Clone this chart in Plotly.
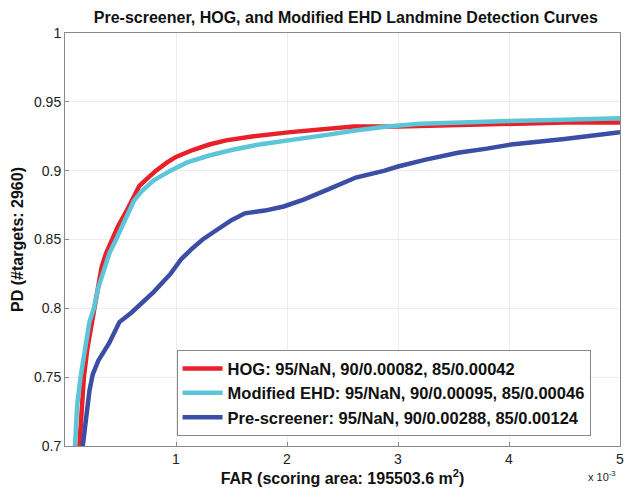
import plotly.graph_objects as go

# FAR values are in units of 1e-3
hog_far = [0.13, 0.15, 0.17, 0.20, 0.24, 0.27, 0.30, 0.33, 0.37, 0.42, 0.48, 0.55, 0.62, 0.67, 0.75,
           0.82, 0.92, 1.00, 1.15, 1.30, 1.45, 1.70, 2.03, 2.30, 2.60, 3.00, 3.50, 4.00, 4.50, 5.00]
hog_pd = [0.700, 0.730, 0.750, 0.770, 0.790, 0.800, 0.818, 0.830, 0.840, 0.850, 0.860, 0.870, 0.881, 0.889, 0.895,
          0.900, 0.906, 0.910, 0.915, 0.919, 0.922, 0.925, 0.928, 0.930, 0.932, 0.932, 0.933, 0.934, 0.935, 0.935]

ehd_far = [0.09, 0.11, 0.14, 0.18, 0.22, 0.26, 0.30, 0.34, 0.40, 0.46, 0.55, 0.62, 0.69, 0.80,
           0.95, 1.10, 1.30, 1.50, 1.75, 2.03, 2.36, 2.60, 2.90, 3.20, 3.54, 4.00, 4.50, 5.00]
ehd_pd = [0.700, 0.730, 0.750, 0.770, 0.790, 0.800, 0.815, 0.825, 0.840, 0.850, 0.866, 0.878, 0.885, 0.893,
          0.900, 0.906, 0.911, 0.915, 0.919, 0.922, 0.926, 0.929, 0.932, 0.934, 0.935, 0.936, 0.937, 0.938]

pre_far = [0.16, 0.19, 0.22, 0.25, 0.30, 0.40, 0.49, 0.60, 0.70, 0.80, 0.95, 1.05, 1.14, 1.24, 1.35,
           1.50, 1.62, 1.80, 1.97, 2.15, 2.36, 2.62, 2.88, 3.00, 3.25, 3.54, 3.80, 4.02, 4.50, 5.00]
pre_pd = [0.700, 0.720, 0.740, 0.752, 0.762, 0.775, 0.790, 0.797, 0.804, 0.812, 0.825, 0.836, 0.843, 0.850, 0.856,
          0.864, 0.869, 0.871, 0.874, 0.879, 0.886, 0.895, 0.900, 0.903, 0.908, 0.913, 0.916, 0.919, 0.923, 0.928]

names = ["HOG: 95/NaN, 90/0.00082, 85/0.00042",
         "Modified EHD: 95/NaN, 90/0.00095, 85/0.00046",
         "Pre-screener: 95/NaN, 90/0.00288, 85/0.00124"]
colors = ["#e8202a", "#5cc6d8", "#3a4ea6"]

x_tickvals = [1, 2, 3, 4, 5]
x_ticktext = ["1", "2", "3", "4", "5"]
y_tickvals = [0.7, 0.75, 0.8, 0.85, 0.9, 0.95, 1.0]
y_ticktext = ["0.7", "0.75", "0.8", "0.85", "0.9", "0.95", "1"]

FONT = "Liberation Sans, Arial, sans-serif"

fig = go.Figure()
for xs, ys, nm, col in [(hog_far, hog_pd, names[0], colors[0]),
                        (ehd_far, ehd_pd, names[1], colors[1]),
                        (pre_far, pre_pd, names[2], colors[2])]:
    fig.add_trace(go.Scatter(x=xs, y=ys, mode="lines", name="<b>" + nm + "</b>",
                             line=dict(color=col, width=4.5)))

fig.update_layout(
    width=630, height=493,
    margin=dict(l=65, r=6, t=33, b=47),
    paper_bgcolor="white", plot_bgcolor="white",
    font=dict(family=FONT, color="#222222"),
    title=dict(text="<b>Pre-screener, HOG, and Modified EHD Landmine Detection Curves</b>",
               x=0.549, xanchor="center", y=0.965, yanchor="middle",
               font=dict(size=16, family=FONT, color="#111111")),
    legend=dict(x=0.201, y=0.232, xanchor="left", yanchor="top",
                bgcolor="white", bordercolor="#888888", borderwidth=1,
                font=dict(size=16.5, family=FONT, color="#111111"),
                tracegroupgap=0, itemwidth=40),
    showlegend=True,
)
fig.update_xaxes(range=[0, 5], tickvals=x_tickvals, ticktext=x_ticktext,
                 showgrid=True, gridcolor="#ececec", gridwidth=1,
                 showline=True, linecolor="#8a8a8a", linewidth=1, mirror=True,
                 ticks="inside", ticklen=4, tickcolor="#8a8a8a",
                 tickfont=dict(size=14, family=FONT, color="#222222"),
                 zeroline=False,
                 title=dict(text="<b>FAR (scoring area: 195503.6 m<sup>2</sup>)</b>",
                            font=dict(size=16, family=FONT, color="#111111"), standoff=4))
fig.update_yaxes(range=[0.7, 1.0], tickvals=y_tickvals, ticktext=y_ticktext,
                 showgrid=True, gridcolor="#ececec", gridwidth=1,
                 showline=True, linecolor="#8a8a8a", linewidth=1, mirror=True,
                 ticks="inside", ticklen=4, tickcolor="#8a8a8a",
                 tickfont=dict(size=14, family=FONT, color="#222222"),
                 zeroline=False,
                 title=dict(text="<b>PD (#targets: 2960)</b>",
                            font=dict(size=16, family=FONT, color="#111111"), standoff=6))
fig.add_annotation(text="x 10<sup>-3</sup>", xref="paper", yref="paper",
                   x=0.968, y=-0.073, xanchor="center", yanchor="middle", showarrow=False,
                   font=dict(size=11, family=FONT, color="#222222"))

fig.write_html("out.html", config={"displayModeBar": False},
               post_script="document.body.style.margin='0px';")
